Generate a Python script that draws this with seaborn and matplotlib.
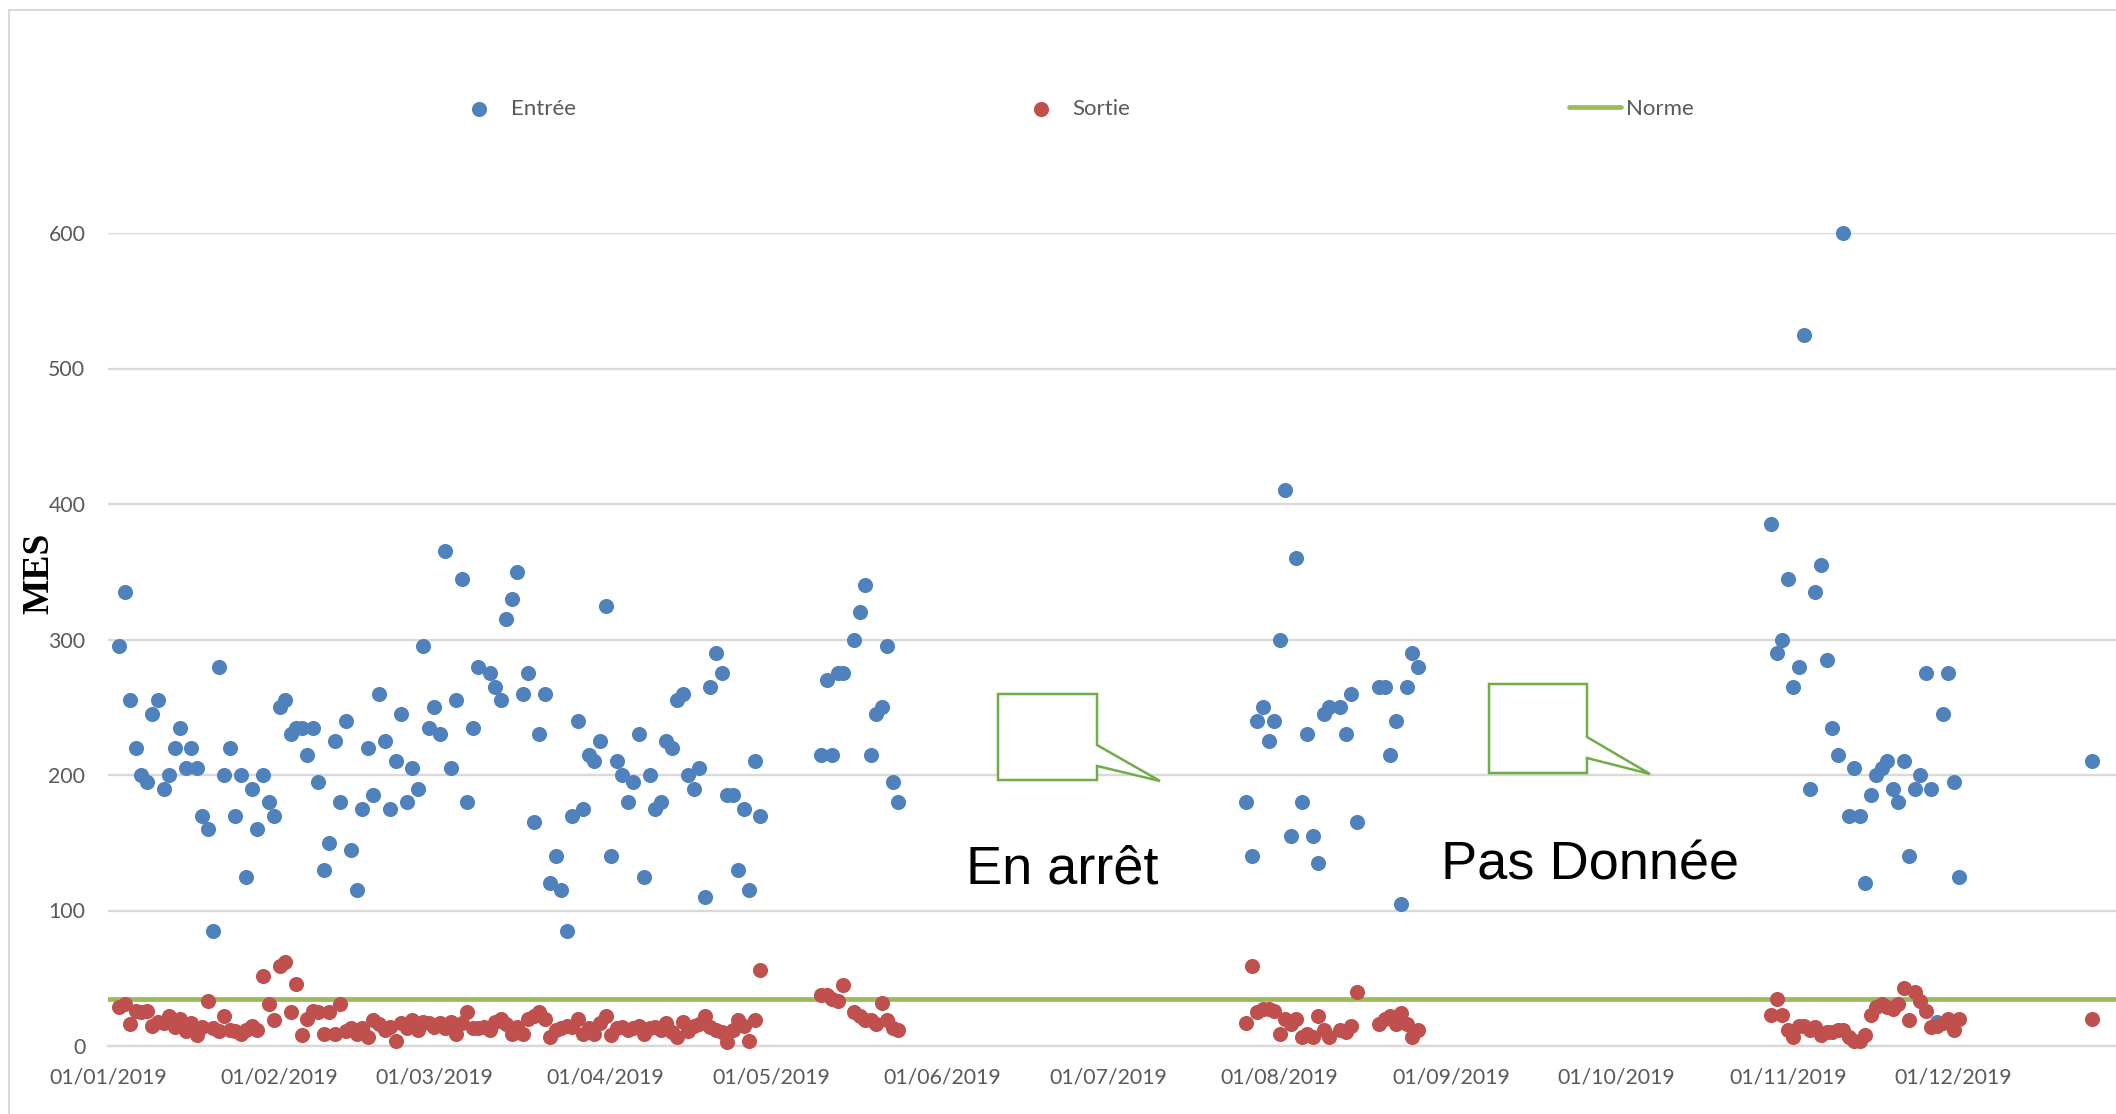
import numpy as np
import pandas as pd
import matplotlib
matplotlib.use("Agg")
import matplotlib.pyplot as plt
import matplotlib.dates as mdates
from matplotlib.patches import Polygon
from matplotlib.lines import Line2D
import seaborn as sns

nan = np.nan

# Daily MES readings (mg/L) at plant inlet (Entrée) and outlet (Sortie),
# one block per sampling campaign, consecutive days from the start date.
jan_apr_start = "2019-01-03"
entree_jan_apr = [
    295, 335, 255, 220, 200, 195, 245, 255, 190, 200,
    220, 235, 205, 220, 205, 170, 160, 85, 280, 200,
    220, 170, 200, 125, 190, 160, 200, 180, 170, 250,
    255, 230, 235, 235, 215, 235, 195, 130, 150, 225,
    180, 240, 145, 115, 175, 220, 185, 260, 225, 175,
    210, 245, 180, 205, 190, 295, 235, 250, 230, 365,
    205, 255, 345, 180, 235, 280, nan, 275, 265, 255,
    315, 330, 350, 260, 275, 165, 230, 260, 120, 140,
    115, 85, 170, 240, 175, 215, 210, 225, 325, 140,
    210, 200, 180, 195, 230, 125, 200, 175, 180, 225,
    220, 255, 260, 200, 190, 205, 110, 265, 290, 275,
    185, 185, 130, 175, 115, 210, 170,
]
sortie_jan_apr = [
    29, 31, 16, 26, 25, 26, 15, 18, 17, 22,
    14, 20, 11, 17, 8, 14, 33, 13, 11, 22,
    12, 11, 9, 12, 15, 12, 52, 31, 19, 59,
    62, 25, 46, 8, 20, 26, 25, 9, 25, 9,
    31, 11, 13, 9, 13, 7, 19, 16, 12, 14,
    4, 17, 13, 19, 12, 18, 17, 14, 17, 13,
    18, 9, 17, 25, 13, 13, 14, 12, 18, 20,
    16, 9, 14, 9, 20, 22, 25, 20, 7, 12,
    13, 15, 14, 20, 9, 13, 9, 17, 22, 8,
    13, 14, 12, 13, 15, 9, 13, 14, 12, 17,
    10, 7, 18, 11, 15, 16, 22, 14, 12, 10,
    3, 12, 19, 15, 4, 19, 56,
]

may_start = "2019-05-10"
entree_may = [215, 270, 215, 275, 275, nan, 300, 320, 340, 215, 245, 250, 295, 195, 180]
sortie_may = [38, 38, 35, 33, 45, nan, 25, 22, 19, 19, 16, 32, 19, 13, 12]

aug_start = "2019-07-26"
entree_aug = [
    180, 140, 240, 250, 225, 240, 300, 410, 155, 360,
    180, 230, 155, 135, 245, 250, nan, 250, 230, 260,
    165, nan, nan, nan, 265, 265, 215, 240, 105, 265,
    290, 280,
]
sortie_aug = [
    17, 59, 25, 27, 27, 26, 9, 20, 16, 20,
    7, 9, 7, 22, 12, 7, nan, 12, 10, 15,
    40, nan, nan, nan, 16, 20, 22, 16, 24, 16,
    7, 12,
]

nov_start = "2019-10-29"
entree_nov = [
    385, 290, 300, 345, 265, 280, 525, 190, 335, 355,
    285, 235, 215, 600, 170, 205, 170, 120, 185, 200,
    205, 210, 190, 180, 210, 140, 190, 200, 275, 190,
    18, 245, 275, 195, 125,
]
sortie_nov = [
    23, 35, 23, 12, 7, 15, 15, 12, 14, 8,
    10, 10, 12, 12, 7, 4, 4, 8, 23, 29,
    31, 29, 27, 31, 43, 19, 40, 33, 26, 14,
    15, 17, 20, 12, 20,
]

dec_dates = ["2019-12-26"]
entree_dec = [210]
sortie_dec = [20]

# Discharge standard
norme_dates = ["2019-01-01", "2020-01-01"]
norme_values = [35, 35]

month_ticks = pd.date_range("2019-01-01", "2019-12-01", freq="MS")
y_ticks = [0, 100, 200, 300, 400, 500, 600]
series_labels = ["Entrée", "Sortie", "Norme"]

# ---------------------------------------------------------------------------
blocks = [
    (jan_apr_start, entree_jan_apr, sortie_jan_apr),
    (may_start, entree_may, sortie_may),
    (aug_start, entree_aug, sortie_aug),
    (nov_start, entree_nov, sortie_nov),
]
frames = []
for start, ent, sor in blocks:
    dates = pd.date_range(start, periods=len(ent), freq="D")
    frames.append(pd.DataFrame({"date": dates, "Entrée": ent, "Sortie": sor}))
frames.append(pd.DataFrame({"date": pd.to_datetime(dec_dates),
                            "Entrée": entree_dec, "Sortie": sortie_dec}))
df = pd.concat(frames, ignore_index=True)
norme_df = pd.DataFrame({"date": pd.to_datetime(norme_dates), "Norme": norme_values})

sns.set_style("white")
plt.rcParams["font.family"] = ["Lato", "DejaVu Sans"]

W, H = 2116, 1114
fig = plt.figure(figsize=(W / 100, H / 100), dpi=100)
fig.patch.set_facecolor("white")


def fpx(x, y):
    return (x / W, 1 - y / H)


ax_left, ax_bottom_px, ax_top_px = 108.3, 1046, 233
ax = fig.add_axes([ax_left / W, (H - ax_bottom_px) / H,
                   (W - ax_left) / W, (ax_bottom_px - ax_top_px) / H])

blue, red, green = "#4F81BD", "#C0504D", "#9BBB59"
grid_grey, text_grey = "#D9D9D9", "#595959"

sns.lineplot(data=norme_df, x="date", y="Norme", color=green, lw=3.4,
             ax=ax, label="Norme", zorder=2)
sns.scatterplot(data=df, x="date", y="Entrée", color=blue, s=118, linewidth=0,
                ax=ax, label="Entrée", zorder=3, clip_on=False)
sns.scatterplot(data=df, x="date", y="Sortie", color=red, s=118, linewidth=0,
                ax=ax, label="Sortie", zorder=4, clip_on=False)

x0 = mdates.date2num(pd.Timestamp("2019-01-01"))
ax.set_xlim(x0, x0 + 363.4)
ax.set_ylim(0, 600)
ax.set_xticks(month_ticks)
ax.xaxis.set_major_formatter(mdates.DateFormatter("%d/%m/%Y"))
ax.set_yticks(y_ticks)

ax.tick_params(axis="x", length=5.8, width=1.5, color=grid_grey, pad=10,
               labelsize=15.3, labelcolor=text_grey, direction="out")
ax.tick_params(axis="y", length=0, pad=16.5, labelsize=15.3, labelcolor=text_grey)
ax.grid(axis="y", color=grid_grey, lw=1.7)
ax.grid(axis="x", visible=False)
ax.set_axisbelow(True)
for side in ("top", "right", "left"):
    ax.spines[side].set_visible(False)
ax.spines["bottom"].set_color(grid_grey)
ax.spines["bottom"].set_linewidth(1.7)

ax.set_xlabel("")
ax.set_ylabel("MES", fontsize=27, fontweight="bold", family="Liberation Serif",
              color="black", va="center", ha="center")
ax.yaxis.set_label_coords(-0.0348, 0.582)

# Legend across the top
handles, labels = ax.get_legend_handles_labels()
hmap = dict(zip(labels, handles))
ax.get_legend().remove()
fig.legend([hmap[l] for l in series_labels], series_labels,
           loc="center left", bbox_to_anchor=fpx(442, 109), ncol=3,
           frameon=False, handlelength=2.34, handletextpad=0.25,
           columnspacing=19.75, borderpad=0, fontsize=16, labelcolor=text_grey)

# Chart-area frame (left and top edges)
fig.add_artist(Line2D([9 / W, 9 / W], [0, 1 - 10 / H], transform=fig.transFigure,
                      color=grid_grey, lw=1.5))
fig.add_artist(Line2D([9 / W, 1], [1 - 10 / H, 1 - 10 / H], transform=fig.transFigure,
                      color=grid_grey, lw=1.5))

# Callout boxes marking the gaps in the record
callout_green = "#70AD47"
callout_1 = [(998, 694), (1097, 694), (1097, 745), (1160, 781),
             (1097, 766), (1097, 780), (998, 780)]
callout_2 = [(1489, 684), (1587, 684), (1587, 737), (1650, 774),
             (1587, 758), (1587, 773), (1489, 773)]
for pts in (callout_1, callout_2):
    fig.add_artist(Polygon([fpx(x, y) for x, y in pts], closed=True,
                           transform=fig.transFigure, facecolor="white",
                           edgecolor=callout_green, lw=1.8, zorder=5))

fig.text(*fpx(966, 883), "En arrêt", fontsize=39, family="Liberation Sans",
         color="black", ha="left", va="baseline")
fig.text(*fpx(1441, 879), "Pas Donnée", fontsize=39, family="Liberation Sans",
         color="black", ha="left", va="baseline")

fig.savefig("out.png", dpi=100, facecolor="white")
